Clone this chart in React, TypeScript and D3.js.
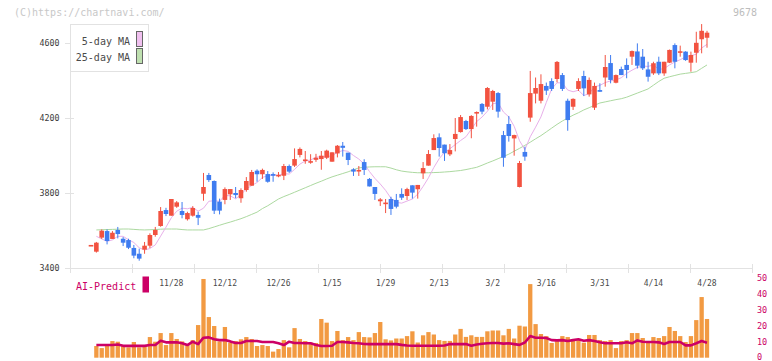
import React from 'react'
import * as d3 from 'd3'

// daily candles, oldest first (index 115 = 4/28)
const opens = [
  3523, 3487, 3562, 3597, 3555, 3603, 3556, 3549, 3507, 3476, 3498, 3519, 3576, 3624, 3709, 3679, 3727, 3704, 3660, 3679,
  3683, 3796, 3896, 3864, 3754, 3763, 3793, 3800, 3772, 3816, 3839, 3919, 3900, 3901, 3901, 3894, 3892, 3944, 3946, 4003,
  3971, 3967, 3977, 3981, 3988, 3967, 4011, 4052, 4015, 3926, 3917, 3965, 3875, 3832, 3756, 3747, 3768, 3763, 3795, 3784,
  3841, 3820, 3905, 3946, 4029, 4097, 4058, 4006, 4088, 4125, 4184, 4141, 4227, 4275, 4260, 4287, 4333, 4109, 4168, 4091,
  3832, 4019, 4202, 4330, 4292, 4371, 4397, 4408, 4429, 4292, 4260, 4355, 4424, 4326, 4255, 4349, 4416, 4493, 4388, 4461,
  4483, 4527, 4555, 4527, 4459, 4438, 4500, 4438, 4495, 4589, 4552, 4554, 4495, 4548, 4620, 4628,
]
const highs = [
  3523, 3539, 3606, 3606, 3597, 3619, 3565, 3556, 3523, 3503, 3539, 3585, 3619, 3725, 3721, 3768, 3757, 3752, 3700, 3730,
  3700, 3907, 3907, 3867, 3770, 3830, 3821, 3832, 3825, 3885, 3923, 3926, 3930, 3917, 3910, 3912, 3955, 3952, 4038, 4043,
  4024, 4007, 4009, 4024, 4031, 4017, 4056, 4072, 4015, 3932, 3944, 3980, 3880, 3832, 3773, 3768, 3780, 3795, 3825, 3828,
  3841, 3843, 3965, 4029, 4113, 4118, 4058, 4061, 4200, 4216, 4190, 4215, 4235, 4280, 4365, 4350, 4338, 4131, 4211, 4111,
  3971, 4047, 4451, 4416, 4433, 4389, 4412, 4504, 4440, 4303, 4305, 4412, 4452, 4416, 4389, 4385, 4536, 4536, 4432, 4474,
  4518, 4560, 4598, 4568, 4500, 4500, 4527, 4500, 4565, 4598, 4586, 4556, 4554, 4660, 4701, 4665,
]
const lows = [
  3523, 3482, 3555, 3526, 3555, 3558, 3517, 3501, 3452, 3439, 3476, 3507, 3567, 3620, 3677, 3679, 3721, 3665, 3653, 3674,
  3629, 3759, 3859, 3688, 3686, 3740, 3763, 3772, 3748, 3807, 3839, 3860, 3875, 3855, 3860, 3884, 3869, 3907, 3939, 3990,
  3956, 3956, 3966, 3924, 3981, 3967, 3990, 3994, 3949, 3891, 3891, 3896, 3835, 3763, 3731, 3693, 3683, 3718, 3763, 3763,
  3770, 3770, 3875, 3946, 4029, 3994, 3971, 3997, 4022, 4122, 4136, 4092, 4154, 4220, 4246, 4243, 4202, 3940, 4074, 3999,
  3830, 3972, 4180, 4278, 4278, 4323, 4344, 4390, 4344, 4132, 4243, 4344, 4317, 4314, 4243, 4340, 4367, 4385, 4385, 4429,
  4412, 4483, 4464, 4456, 4394, 4430, 4429, 4425, 4493, 4465, 4527, 4505, 4447, 4495, 4545, 4575,
]
const closes = [
  3523, 3535, 3599, 3544, 3588, 3581, 3535, 3508, 3466, 3450, 3519, 3576, 3603, 3704, 3688, 3768, 3750, 3683, 3693, 3720,
  3668, 3832, 3869, 3706, 3706, 3821, 3821, 3789, 3816, 3864, 3912, 3900, 3923, 3860, 3892, 3897, 3944, 3914, 3981, 4035,
  3979, 3970, 3988, 3999, 4026, 4017, 4052, 4041, 3976, 3914, 3923, 3923, 3835, 3795, 3766, 3749, 3715, 3727, 3775, 3821,
  3802, 3843, 3933, 4008, 4093, 4040, 4012, 4029, 4115, 4205, 4141, 4211, 4232, 4234, 4360, 4344, 4234, 3988, 4104, 4109,
  3960, 3994, 4333, 4360, 4381, 4346, 4355, 4499, 4355, 4189, 4302, 4397, 4358, 4403, 4371, 4340, 4472, 4403, 4429, 4429,
  4456, 4557, 4479, 4465, 4420, 4492, 4438, 4500, 4563, 4500, 4556, 4509, 4536, 4601, 4665, 4655,
]

const ma5 = [
  null, 3569, 3555, 3542, 3550, 3569, 3569, 3551, 3536, 3508, 3496, 3504, 3523, 3570, 3618, 3668, 3703, 3719, 3716, 3723,
  3703, 3719, 3756, 3759, 3756, 3787, 3785, 3769, 3791, 3822, 3840, 3856, 3883, 3892, 3897, 3894, 3903, 3901, 3926, 3954,
  3971, 3976, 3991, 3994, 3992, 4000, 4016, 4027, 4022, 4000, 3981, 3955, 3914, 3878, 3848, 3814, 3772, 3750, 3746, 3757,
  3768, 3794, 3835, 3881, 3936, 3983, 4017, 4036, 4058, 4080, 4100, 4140, 4181, 4205, 4236, 4276, 4281, 4232, 4206, 4156,
  4079, 4031, 4100, 4151, 4206, 4283, 4355, 4388, 4387, 4349, 4340, 4348, 4320, 4330, 4366, 4374, 4389, 4398, 4403, 4415,
  4438, 4455, 4470, 4477, 4475, 4483, 4459, 4463, 4483, 4499, 4511, 4526, 4533, 4540, 4573, 4593,
]
const ma25 = [
  null, 3603, 3604, 3605, 3606, 3607, 3608, 3608, 3606, 3604, 3603, 3604, 3605, 3607, 3608, 3608, 3608, 3605, 3603, 3603,
  3603, 3603, 3610, 3619, 3628, 3637, 3645, 3654, 3663, 3674, 3686, 3698, 3717, 3732, 3750, 3768, 3781, 3792, 3804, 3816,
  3828, 3840, 3852, 3863, 3875, 3886, 3895, 3904, 3913, 3924, 3934, 3937, 3939, 3940, 3940, 3940, 3933, 3924, 3917, 3913,
  3910, 3908, 3908, 3908, 3909, 3910, 3912, 3914, 3917, 3920, 3925, 3931, 3937, 3948, 3960, 3971, 3983, 3995, 4007, 4023,
  4038, 4054, 4071, 4089, 4106, 4126, 4146, 4166, 4184, 4200, 4215, 4228, 4243, 4255, 4268, 4280, 4286, 4292, 4298, 4303,
  4311, 4322, 4333, 4344, 4355, 4375, 4395, 4412, 4420, 4427, 4434, 4438, 4442, 4447, 4465, 4483,
]

const volumes = [
  0, 7.3, 6.0, 7.9, 10.4, 10.0, 7.3, 6.5, 9.8, 6.5, 7.3, 12.9, 10.0, 15.4, 7.9, 15.4, 11.7, 10.2, 7.9, 11.0,
  20.4, 49.2, 25.4, 19.8, 10.2, 19.2, 9.4, 10.4, 11.5, 12.9, 11.7, 7.3, 7.9, 7.3, 3.8, 5.4, 11.0, 6.5, 18.5, 11.7,
  10.4, 9.4, 9.2, 24.2, 21.9, 10.4, 16.7, 11.0, 12.9, 11.0, 16.0, 12.9, 12.7, 15.4, 22.3, 11.5, 10.8, 12.0, 12.0, 13.5,
  16.5, 9.5, 14.0, 16.0, 14.5, 11.0, 10.5, 10.5, 14.5, 18.0, 13.0, 14.0, 13.0, 13.0, 16.5, 17.0, 17.0, 14.0, 18.0, 12.0,
  20.0, 19.5, 46.0, 21.0, 14.8, 13.5, 9.2, 10.4, 13.5, 12.9, 11.7, 11.0, 9.4, 14.2, 14.2, 11.0, 10.4, 11.0, 6.0, 10.4,
  11.0, 15.4, 15.4, 12.3, 10.4, 12.9, 12.3, 13.5, 19.2, 16.7, 13.5, 9.8, 13.5, 23.5, 37.9, 24.2,
]
const aiPredict = [
  null, 7.9, 7.9, 7.9, 7.9, 8.3, 7.4, 7.4, 7.4, 7.4, 7.4, 7.9, 7.9, 10.6, 9.6, 9.6, 9.6, 9.0, 7.9, 10.0,
  8.5, 12.5, 12.7, 11.5, 11.0, 11.0, 10.2, 9.2, 9.2, 10.4, 10.4, 10.4, 9.8, 9.8, 9.8, 9.0, 7.9, 10.0, 9.2, 9.2,
  9.0, 9.0, 8.0, 7.3, 7.3, 7.5, 9.8, 9.8, 9.6, 9.2, 9.0, 8.6, 8.5, 8.5, 8.5, 8.5, 8.5, 8.5, 8.0, 7.6,
  7.5, 7.5, 7.5, 7.5, 7.5, 7.5, 7.6, 8.5, 8.5, 8.5, 8.5, 7.5, 8.3, 8.7, 9.0, 9.2, 9.2, 8.8, 9.0, 8.5,
  8.0, 9.5, 13.5, 12.5, 12.5, 12.3, 11.0, 10.8, 11.0, 10.4, 11.0, 11.5, 10.6, 11.0, 10.4, 9.6, 9.0, 9.0, 9.0, 9.0,
  9.6, 9.0, 10.8, 10.0, 9.8, 9.8, 9.6, 8.6, 9.8, 9.8, 9.8, 7.7, 7.7, 9.0, 10.4, 9.4,
]

const dateLabels = ['11/28', '12/12', '12/26', '1/15', '1/29', '2/13', '3/2', '3/16', '3/31', '4/14', '4/28']
const dateLabelIdx = [15, 25, 35, 45, 55, 65, 75, 85, 95, 105, 115]
const priceTicks = [3400, 3800, 4200, 4600]
const volTicks = [0, 10, 20, 30, 40, 50]

const UP = '#f25240'
const DOWN = '#3f7cf0'
const MONO = '"DejaVu Sans Mono", monospace'

export default function App() {
  const x = d3.scaleLinear().domain([0, closes.length - 1]).range([91, 707])
  const y = d3.scaleLinear().domain([3400, 4600]).range([268, 43])
  const yv = d3.scaleLinear().domain([0, 50]).range([357.7, 277.7])

  const priceLine = d3.line<number | null>()
    .defined((d) => d != null)
    .x((d, i) => x(i))
    .y((d) => y(d as number))
  const volLine = d3.line<number | null>()
    .defined((d) => d != null)
    .x((d, i) => x(i))
    .y((d) => yv(d as number))

  const bodyW = 4.6
  const volW = 4.3
  const gridX = d3.range(70.5, 753, 62)

  return (
    <svg width={772} height={361} style={{ position: 'absolute', left: 0, top: 0, background: '#fff' }}>
      <text x={14} y={16} fontFamily={MONO} fontSize={10} fill="#c8c8c8">(C)https://chartnavi.com/</text>
      <text x={757} y={16} fontFamily={MONO} fontSize={10} fill="#bdbdbd" textAnchor="end">9678</text>

      {/* axes */}
      <line x1={70.5} y1={24} x2={70.5} y2={268} stroke="#e2e2e2" />
      <line x1={70.5} y1={268.5} x2={752.5} y2={268.5} stroke="#e2e2e2" />
      {gridX.map((gx) => (
        <line key={gx} x1={gx} y1={264} x2={gx} y2={273} stroke="#e2e2e2" />
      ))}
      {priceTicks.map((t) => (
        <g key={t}>
          <line x1={65} y1={y(t) + 0.5} x2={74} y2={y(t) + 0.5} stroke="#e2e2e2" />
          <text x={59.5} y={y(t) + 3} fontFamily={MONO} fontSize={8.3} fill="#3a3a3a" textAnchor="end">{t}</text>
        </g>
      ))}

      {/* moving averages */}
      <path d={priceLine(ma25) || ''} fill="none" stroke="#acd9a0" strokeWidth={1} />
      <path d={priceLine(ma5) || ''} fill="none" stroke="#e8b0ea" strokeWidth={1} />

      {/* candles */}
      {closes.map((c, i) => {
        const o = opens[i]
        const col = c >= o ? UP : DOWN
        const top = y(Math.max(o, c))
        const h = Math.max(1.6, y(Math.min(o, c)) - top)
        const cx = x(i)
        return (
          <g key={i}>
            <line x1={cx} x2={cx} y1={y(highs[i])} y2={y(lows[i])} stroke={col} strokeWidth={1} />
            <rect x={cx - bodyW / 2} y={top} width={bodyW} height={h} fill={col} />
          </g>
        )
      })}

      {/* legend */}
      <rect x={70.5} y={24.5} width={78} height={47} fill="#fff" stroke="#e2e2e2" />
      <text x={130} y={44.5} fontFamily={MONO} fontSize={10} fill="#4a4a4a" textAnchor="end">5-day MA</text>
      <rect x={136.5} y={31.5} width={6} height={15} fill="#f0c0ef" stroke="#666" />
      <text x={130} y={60.5} fontFamily={MONO} fontSize={10} fill="#4a4a4a" textAnchor="end">25-day MA</text>
      <rect x={136.5} y={48.5} width={6} height={15} fill="#bfe0b0" stroke="#666" />

      {/* date labels */}
      {dateLabels.map((lab, k) => (
        <text key={lab} x={x(dateLabelIdx[k])} y={285.5} fontFamily={MONO} fontSize={8} fill="#4a4a4a" textAnchor="middle">{lab}</text>
      ))}

      {/* volume */}
      {volumes.map((v, i) => (v > 0 ? (
        <rect key={i} x={x(i) - volW / 2} y={yv(v)} width={volW} height={yv(0) - yv(v)} fill="#f29a42" />
      ) : null))}
      <path d={volLine(aiPredict) || ''} fill="none" stroke="#cc0066" strokeWidth={2.6} strokeLinejoin="round" />

      <text x={76} y={290} fontFamily={MONO} fontSize={10} fill="#cc0066">AI-Predict</text>
      <rect x={142.5} y={276.5} width={6.5} height={16} fill="#cc0066" />

      {volTicks.map((t) => (
        <text key={t} x={757} y={Math.min(yv(t) + 3, 359.5)} fontFamily={MONO} fontSize={8.5} fill="#cc0066">{t}</text>
      ))}
    </svg>
  )
}
